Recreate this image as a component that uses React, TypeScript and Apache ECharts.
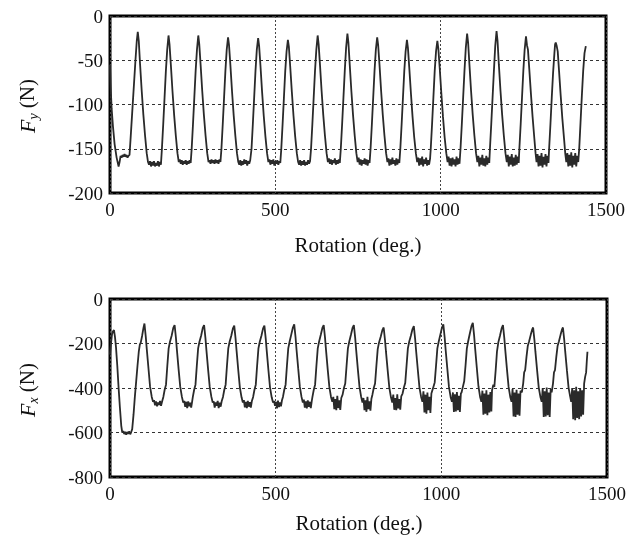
import React, { useEffect, useRef } from "react";
import * as echarts from "echarts";

const xTicks = [0, 500, 1000, 1500];
const fyTicks = [-200, -150, -100, -50, 0];
const fxTicks = [-800, -600, -400, -200, 0];
const xTitle = "Rotation (deg.)";

// Fy (N) vs rotation (deg.)
const fyData: [number, number][] = [
  [0,-55],[2,-80],[5,-105],[9,-125],[14,-145],[20,-160],[26,-170],[29,-165],[32,-158],[35,-160],[38,-157],[41,-159],[44,-156],[47,-159],[50,-157],[53,-160],[56,-158],[59,-157],[62,-140],[67,-110],[72,-80],[77,-50],[81,-28],[84,-18],
  [87,-28],[91,-55],[96,-85],[101,-112],[106,-135],[111,-155],[115,-165],[118,-168],[121,-164],[124,-170],[127,-165],[130,-169],[133,-164],[136,-170],[139,-166],[142,-169],[145,-164],[148,-170],[151,-165],[154,-168],[157,-150],[161,-122],[165,-92],[169,-62],[173,-38],[177,-22],
  [180,-32],[184,-55],[189,-85],[194,-112],[199,-135],[204,-155],[208,-165],[211,-162],[214,-167],[217,-163],[220,-168],[223,-164],[226,-167],[229,-163],[232,-168],[235,-164],[238,-167],[241,-163],[244,-166],[247,-150],[251,-122],[255,-92],[259,-62],[263,-38],[267,-22],
  [270,-32],[274,-55],[279,-85],[284,-112],[289,-135],[294,-155],[298,-165],[301,-163],[304,-167],[307,-162],[310,-166],[313,-163],[316,-167],[319,-162],[322,-166],[325,-163],[328,-167],[331,-162],[334,-165],[337,-150],[341,-122],[345,-92],[349,-62],[353,-38],[357,-24],
  [360,-33],[364,-55],[369,-85],[374,-112],[379,-135],[384,-155],[388,-165],[391,-168],[394,-163],[397,-169],[400,-164],[403,-168],[406,-162],[409,-167],[412,-163],[415,-169],[418,-164],[421,-167],[424,-163],[428,-150],[432,-122],[436,-92],[440,-62],[444,-38],[448,-25],
  [451,-34],[455,-56],[460,-86],[465,-113],[470,-136],[475,-155],[479,-165],[482,-162],[485,-168],[488,-163],[491,-167],[494,-162],[497,-169],[500,-164],[503,-167],[506,-163],[509,-168],[512,-164],[515,-166],[518,-150],[522,-122],[526,-92],[530,-62],[534,-40],[538,-27],
  [541,-35],[545,-57],[550,-86],[555,-113],[560,-136],[565,-155],[569,-165],[572,-168],[575,-163],[578,-169],[581,-164],[584,-168],[587,-163],[590,-169],[593,-165],[596,-168],[599,-163],[602,-167],[605,-164],[608,-150],[612,-122],[616,-92],[620,-62],[624,-38],[628,-22],
  [631,-32],[635,-55],[640,-85],[645,-112],[650,-135],[655,-155],[659,-165],[662,-161],[665,-167],[668,-162],[671,-168],[674,-163],[677,-166],[680,-161],[683,-168],[686,-163],[689,-167],[692,-162],[695,-166],[698,-150],[702,-122],[706,-92],[710,-62],[714,-36],[718,-20],
  [721,-30],[725,-55],[730,-85],[735,-112],[740,-135],[745,-155],[749,-165],[752,-160],[755,-168],[758,-162],[761,-169],[764,-163],[767,-167],[770,-161],[773,-168],[776,-162],[779,-169],[782,-163],[785,-166],[788,-150],[792,-122],[796,-92],[800,-62],[804,-38],[808,-24],
  [811,-33],[815,-55],[820,-85],[825,-112],[830,-135],[835,-155],[839,-165],[842,-161],[845,-169],[848,-162],[851,-168],[854,-160],[857,-167],[860,-163],[863,-169],[866,-161],[869,-168],[872,-162],[875,-166],[878,-150],[882,-122],[886,-92],[890,-62],[894,-40],[898,-27],
  [901,-36],[905,-58],[910,-87],[915,-114],[920,-137],[925,-155],[929,-165],[932,-160],[935,-169],[938,-161],[941,-168],[944,-159],[947,-170],[950,-162],[953,-167],[956,-160],[959,-169],[962,-163],[965,-168],[968,-161],[970,-150],[974,-122],[978,-92],[982,-62],[986,-40],[990,-28],
  [993,-37],[997,-58],[1002,-87],[1007,-114],[1012,-137],[1017,-155],[1021,-165],[1024,-159],[1027,-169],[1030,-161],[1033,-170],[1036,-160],[1039,-168],[1042,-162],[1045,-170],[1048,-159],[1051,-168],[1054,-161],[1057,-167],[1060,-150],[1064,-122],[1068,-92],[1072,-62],[1076,-36],[1080,-20],
  [1083,-30],[1087,-55],[1092,-85],[1097,-112],[1102,-135],[1107,-155],[1111,-165],[1114,-158],[1117,-170],[1120,-160],[1123,-168],[1126,-157],[1129,-169],[1132,-161],[1135,-170],[1138,-158],[1141,-168],[1144,-160],[1147,-166],[1149,-150],[1153,-122],[1157,-92],[1161,-62],[1165,-34],[1169,-17],
  [1172,-28],[1176,-55],[1181,-85],[1186,-112],[1191,-135],[1196,-155],[1200,-165],[1203,-157],[1206,-170],[1209,-159],[1212,-168],[1215,-156],[1218,-170],[1221,-160],[1224,-169],[1227,-157],[1230,-168],[1233,-159],[1236,-166],[1238,-150],[1242,-122],[1246,-92],[1250,-62],[1254,-38],[1258,-23],
  [1261,-33],[1264,-38],[1268,-60],[1273,-88],[1278,-114],[1283,-137],[1287,-155],[1290,-165],[1293,-156],[1296,-170],[1299,-158],[1302,-169],[1305,-155],[1308,-171],[1311,-159],[1314,-168],[1317,-156],[1320,-170],[1323,-158],[1326,-166],[1328,-150],[1332,-122],[1336,-92],[1340,-64],[1344,-42],[1346,-32],[1348,-30],
  [1351,-34],[1354,-40],[1358,-62],[1363,-90],[1368,-116],[1373,-138],[1377,-156],[1380,-165],[1383,-155],[1386,-170],[1389,-157],[1392,-169],[1395,-154],[1398,-171],[1401,-158],[1404,-168],[1407,-155],[1410,-170],[1413,-158],[1416,-165],[1419,-150],[1423,-120],[1427,-90],[1431,-62],[1435,-42],[1439,-34]
];

// Fx (N) vs rotation (deg.)
const fxData: [number, number][] = [
  [0,-250],[3,-200],[6,-160],[9,-145],[12,-140],[15,-170],[18,-215],[22,-300],[26,-400],[30,-490],[34,-570],[37,-600],[40,-594],[43,-607],[46,-597],[49,-610],[52,-598],[55,-606],[58,-595],[61,-608],[64,-598],[67,-585],[71,-520],[75,-440],[79,-370],[83,-300],[87,-235],[90,-205],[93,-195],[97,-165],[101,-130],[104,-110],
  [108,-170],[111,-225],[116,-310],[121,-395],[126,-440],[130,-462],[133,-455],[136,-478],[139,-460],[142,-482],[145,-465],[148,-476],[151,-458],[154,-480],[157,-462],[161,-440],[165,-408],[169,-385],[173,-300],[177,-222],[181,-192],[186,-165],[191,-130],[195,-117],
  [199,-175],[202,-230],[207,-315],[212,-395],[217,-440],[221,-465],[224,-458],[227,-485],[230,-462],[233,-490],[236,-460],[239,-482],[242,-466],[245,-488],[248,-460],[250,-440],[254,-408],[258,-385],[262,-300],[266,-222],[270,-192],[275,-165],[280,-130],[284,-117],
  [288,-175],[291,-230],[296,-315],[301,-395],[306,-440],[310,-465],[313,-460],[316,-488],[319,-465],[322,-480],[325,-458],[328,-490],[331,-466],[334,-484],[337,-460],[341,-440],[345,-408],[349,-385],[353,-300],[357,-222],[361,-192],[366,-165],[371,-132],[375,-120],
  [379,-178],[382,-232],[387,-318],[392,-398],[397,-442],[401,-465],[404,-455],[407,-487],[410,-462],[413,-490],[416,-458],[419,-484],[422,-464],[425,-488],[428,-460],[432,-440],[436,-408],[440,-385],[444,-300],[448,-222],[452,-192],[457,-165],[462,-132],[466,-120],
  [470,-178],[473,-232],[478,-318],[483,-398],[488,-442],[492,-465],[495,-458],[498,-480],[501,-462],[504,-492],[507,-457],[510,-486],[513,-465],[516,-482],[519,-455],[522,-440],[526,-408],[530,-385],[534,-300],[538,-222],[542,-192],[547,-160],[552,-128],[556,-114],
  [560,-172],[563,-228],[568,-312],[573,-395],[578,-440],[582,-465],[585,-452],[588,-488],[591,-460],[594,-492],[597,-456],[600,-485],[603,-462],[606,-490],[609,-458],[611,-440],[615,-408],[619,-385],[623,-300],[627,-222],[631,-192],[636,-162],[641,-130],[645,-117],
  [649,-175],[652,-230],[657,-315],[662,-395],[667,-440],[671,-462],[674,-440],[677,-495],[680,-450],[683,-500],[686,-435],[689,-490],[692,-455],[695,-498],[698,-445],[702,-430],[706,-400],[710,-380],[714,-300],[718,-222],[722,-192],[727,-162],[732,-130],[736,-117],
  [740,-175],[743,-230],[748,-315],[753,-395],[758,-440],[762,-465],[765,-445],[768,-500],[771,-455],[774,-507],[777,-440],[780,-495],[783,-460],[786,-502],[789,-448],[792,-430],[796,-400],[800,-380],[804,-300],[808,-225],[812,-195],[817,-170],[822,-140],[826,-128],
  [830,-185],[833,-238],[838,-320],[843,-398],[848,-442],[852,-465],[855,-430],[858,-498],[861,-445],[864,-500],[867,-428],[870,-492],[873,-450],[876,-497],[879,-438],[883,-425],[887,-398],[891,-378],[895,-300],[899,-222],[903,-192],[908,-165],[913,-135],[917,-122],
  [921,-180],[924,-235],[929,-318],[934,-398],[939,-440],[943,-462],[946,-415],[949,-510],[952,-430],[955,-515],[958,-420],[961,-500],[964,-440],[967,-512],[970,-425],[972,-425],[976,-395],[980,-375],[984,-300],[988,-222],[992,-192],[997,-160],[1002,-128],[1006,-114],
  [1010,-172],[1013,-228],[1018,-312],[1023,-395],[1028,-440],[1032,-462],[1035,-420],[1038,-508],[1041,-428],[1044,-505],[1047,-418],[1050,-500],[1053,-435],[1056,-508],[1059,-425],[1061,-420],[1065,-395],[1069,-370],[1073,-300],[1077,-222],[1081,-190],[1086,-155],[1091,-122],[1095,-107],
  [1099,-165],[1102,-222],[1107,-308],[1112,-392],[1117,-440],[1121,-462],[1124,-412],[1127,-520],[1130,-425],[1133,-515],[1136,-410],[1139,-522],[1142,-430],[1145,-510],[1148,-418],[1151,-505],[1153,-410],[1157,-385],[1160,-395],[1164,-320],[1168,-235],[1172,-195],[1177,-165],[1182,-132],[1186,-117],
  [1190,-175],[1193,-230],[1198,-315],[1203,-395],[1208,-440],[1212,-462],[1215,-405],[1218,-528],[1221,-420],[1224,-530],[1227,-408],[1230,-520],[1233,-425],[1236,-525],[1239,-412],[1243,-420],[1247,-380],[1250,-330],[1253,-320],[1257,-260],[1261,-210],[1265,-190],[1270,-160],[1274,-138],[1277,-128],
  [1281,-185],[1284,-238],[1289,-320],[1294,-398],[1299,-440],[1303,-462],[1306,-400],[1309,-530],[1312,-415],[1315,-528],[1318,-398],[1321,-522],[1324,-420],[1327,-530],[1330,-405],[1333,-420],[1337,-380],[1340,-330],[1343,-320],[1347,-260],[1351,-210],[1355,-190],[1360,-160],[1364,-138],[1367,-128],
  [1371,-185],[1374,-238],[1379,-320],[1384,-398],[1389,-440],[1392,-462],[1395,-400],[1398,-540],[1401,-410],[1404,-545],[1407,-395],[1410,-535],[1413,-415],[1416,-540],[1419,-400],[1422,-528],[1425,-410],[1428,-520],[1431,-380],[1434,-350],[1437,-330],[1439,-280],[1441,-237]
];

const FONT = "Liberation Serif";

export default function App() {
  const ref = useRef<HTMLDivElement>(null);
  useEffect(() => {
    const chart = echarts.init(ref.current!, null, { renderer: "svg" });
    const grids = [
      { left: 110, top: 16, width: 496, height: 177 },
      { left: 110, top: 299, width: 497, height: 178 },
    ];
    const yTicks = [fyTicks, fxTicks];
    const yNames = ["y", "x"];
    const yNameCenters = [[27, 106], [27, 390]];
    const xNameCenters = [[358, 245], [359, 523]];
    chart.setOption({
      animation: false,
      grid: grids.map((g) => ({ ...g, show: true, borderColor: "#000", borderWidth: 3 })),
      xAxis: grids.map((_, i) => ({
        type: "value",
        gridIndex: i,
        min: xTicks[0],
        max: xTicks[xTicks.length - 1],
        interval: xTicks[1] - xTicks[0],
        axisLine: { show: false },
        axisTick: { show: false },
        axisLabel: { fontSize: 19, fontFamily: FONT, color: "#111", margin: 7, formatter: (v: number) => String(v) },
        splitLine: { show: true, lineStyle: { color: "#444", width: 1, type: [2, 2] } },
      })),
      yAxis: grids.map((_, i) => ({
        type: "value",
        gridIndex: i,
        min: yTicks[i][0],
        max: yTicks[i][yTicks[i].length - 1],
        interval: yTicks[i][1] - yTicks[i][0],
        axisLine: { show: false },
        axisTick: { show: false },
        axisLabel: { fontSize: 19, fontFamily: FONT, color: "#111", margin: 7, formatter: (v: number) => String(v) },
        splitLine: { show: true, lineStyle: { color: "#333", width: 1, type: [3, 3] } },
      })),
      series: [fyData, fxData].map((d, i) => ({
        type: "line",
        xAxisIndex: i,
        yAxisIndex: i,
        data: d,
        showSymbol: false,
        lineStyle: { color: "#2a2a2a", width: 1.8 },
      })),
      graphic: [
        ...xNameCenters.map(([x, y]) => ({
          type: "text",
          x,
          y,
          style: { text: xTitle, fill: "#111", fontSize: 21, fontFamily: FONT, align: "center", verticalAlign: "middle" },
        })),
        ...yNameCenters.map(([x, y], i) => ({
          type: "text",
          x,
          y,
          rotation: Math.PI / 2,
          style: {
            text: `{f|F}{s|${yNames[i]}}{n| (N)}`,
            fill: "#111",
            fontSize: 20,
            fontFamily: FONT,
            align: "center",
            verticalAlign: "middle",
            rich: {
              f: { fontSize: 22, fontStyle: "italic", fontFamily: FONT, fill: "#111", lineHeight: 26 },
              s: { fontSize: 14, fontStyle: "italic", fontFamily: FONT, fill: "#111", lineHeight: 14, verticalAlign: "bottom" },
              n: { fontSize: 21, fontFamily: FONT, fill: "#111", lineHeight: 26 },
            },
          },
        })),
      ],
    });
    return () => chart.dispose();
  }, []);
  return <div ref={ref} style={{ position: "fixed", left: 0, top: 0, width: 635, height: 538 }} />;
}
